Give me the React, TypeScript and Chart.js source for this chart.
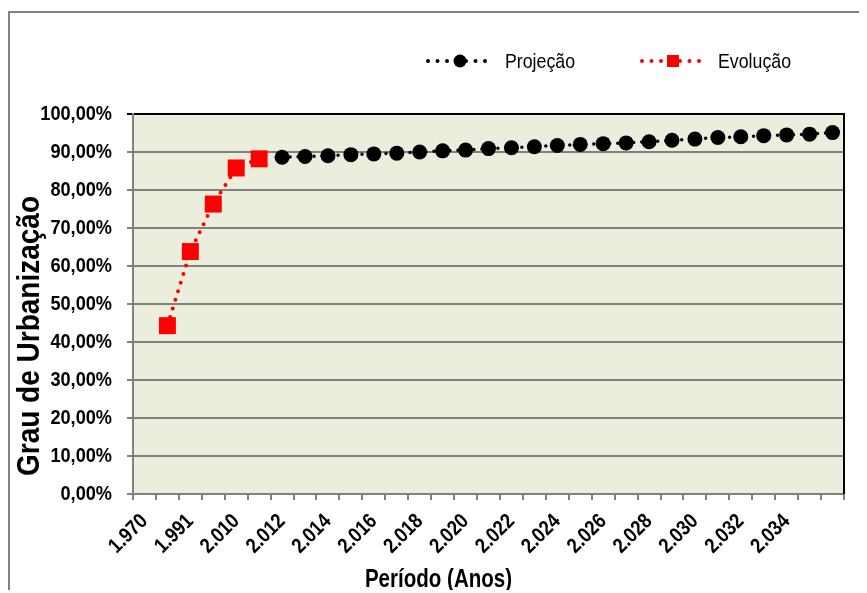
import { useEffect, useRef } from 'react';
import { Chart, registerables } from 'chart.js';

Chart.register(...registerables);

const FONT = '"Liberation Sans", Arial, sans-serif';

// Category labels (one per category; the last one is blank in the source)
const categories: string[] = [
  '1.970', '1.980', '1.991', '2.000', '2.010', '2.011', '2.012', '2.013', '2.014', '2.015',
  '2.016', '2.017', '2.018', '2.019', '2.020', '2.021', '2.022', '2.023', '2.024', '2.025',
  '2.026', '2.027', '2.028', '2.029', '2.030', '2.031', '2.032', '2.033', '2.034', '2.035', '',
];
const labelEvery = 2;

// Evolução (observed), starting at category index 1
const evolucaoStart = 1;
const evolucao: number[] = [44.3, 63.8, 76.3, 85.8, 88.2];

// Projeção, starting at category index 6
const projecaoStart = 6;
const projecao: number[] = [
  88.6, 88.8, 89.0, 89.3, 89.5, 89.7, 90.0, 90.3, 90.5, 90.9, 91.1, 91.4, 91.7,
  92.0, 92.2, 92.4, 92.7, 93.1, 93.4, 93.8, 94.0, 94.3, 94.5, 94.7, 95.1,
];

const yMin = 0;
const yMax = 100;
const yStep = 10;

const seriesNames = ['Projeção', 'Evolução'];
const xTitle = 'Período (Anos)';
const yTitle = 'Grau de Urbanização';

function pad(values: number[], start: number): (number | null)[] {
  return categories.map((_, i) => {
    const k = i - start;
    return k >= 0 && k < values.length ? values[k] : null;
  });
}

const xLabel = (i: number) => (i % labelEvery === 0 ? categories[i] : '');
const yLabel = (v: number) => Number(v).toFixed(2).replace('.', ',') + '%';

const GRAY = '#808080';
const PLOT_BG = '#EBEEDC';

// the source uses a condensed face; emulate it by squeezing text horizontally (sx)
function drawText(
  ctx: CanvasRenderingContext2D,
  text: string,
  x: number,
  y: number,
  font: string,
  sx: number,
  align: CanvasTextAlign,
  baseline: CanvasTextBaseline,
  rotation = 0,
) {
  ctx.save();
  ctx.translate(x, y);
  if (rotation) ctx.rotate(rotation);
  ctx.scale(sx, 1);
  ctx.font = font;
  ctx.fillStyle = '#000000';
  ctx.textAlign = align;
  ctx.textBaseline = baseline;
  ctx.fillText(text, 0, 0);
  ctx.restore();
}

const decorPlugin = {
  id: 'decor',
  beforeDraw(chart: any) {
    const { ctx, chartArea } = chart;
    ctx.save();
    ctx.fillStyle = PLOT_BG;
    ctx.fillRect(chartArea.left, chartArea.top, chartArea.right - chartArea.left, chartArea.bottom - chartArea.top);
    ctx.restore();
  },
  afterDraw(chart: any) {
    const { ctx, chartArea } = chart;
    const xs = chart.scales.x;
    const ys = chart.scales.y;
    ctx.save();
    // right border of plot area
    ctx.strokeStyle = '#000000';
    ctx.lineWidth = 2;
    ctx.beginPath();
    ctx.moveTo(chartArea.right, chartArea.top - 1);
    ctx.lineTo(chartArea.right, chartArea.bottom);
    ctx.stroke();
    ctx.restore();

    // y tick labels
    const yFont = `bold 21px ${FONT}`;
    ys.ticks.forEach((t: any, i: number) => {
      drawText(ctx, yLabel(t.value), chartArea.left - 21, ys.getPixelForTick(i), yFont, 0.865, 'right', 'middle');
    });

    // x tick labels (rotated 45°)
    const xFont = `bold 21px ${FONT}`;
    xs.ticks.forEach((_t: any, i: number) => {
      const s = xLabel(i);
      if (!s) return;
      drawText(ctx, s, xs.getPixelForTick(i), chartArea.bottom + 24, xFont, 0.86, 'right', 'middle', -Math.PI / 4);
    });

    // axis titles
    drawText(ctx, yTitle, 20, 323, `bold 32px ${FONT}`, 0.875, 'center', 'middle', -Math.PI / 2);
    drawText(ctx, xTitle, chart.width / 2, 567, `bold 26px ${FONT}`, 0.79, 'center', 'middle');

    // legend
    const items = [
      { ds: chart.data.datasets[0], x0: 418, x1: 482, text: 495 },
      { ds: chart.data.datasets[1], x0: 632, x1: 694, text: 708 },
    ];
    const y = 48;
    items.forEach((it) => {
      const ds = it.ds;
      ctx.save();
      ctx.strokeStyle = ds.borderColor;
      ctx.lineWidth = 4;
      ctx.lineCap = 'round';
      ctx.setLineDash([0, 9.5]);
      ctx.beginPath();
      ctx.moveTo(it.x0, y);
      ctx.lineTo(it.x1, y);
      ctx.stroke();
      ctx.setLineDash([]);
      const cx = (it.x0 + it.x1) / 2;
      ctx.fillStyle = ds.pointBackgroundColor;
      if (ds.pointStyle === 'rect') {
        ctx.fillRect(cx - 6, y - 6, 12, 12);
      } else {
        ctx.beginPath();
        ctx.arc(cx, y, 6.5, 0, Math.PI * 2);
        ctx.fill();
      }
      ctx.restore();
      drawText(ctx, ds.label, it.text, y + 1, `21px ${FONT}`, 0.845, 'left', 'middle');
    });
  },
};

export default function App() {
  const ref = useRef<HTMLCanvasElement>(null);
  useEffect(() => {
    document.documentElement.style.overflow = 'hidden';
    document.body.style.overflow = 'hidden';
    const chart = new Chart(ref.current as HTMLCanvasElement, {
      type: 'line',
      data: {
        labels: categories,
        datasets: [
          {
            label: seriesNames[0],
            data: pad(projecao, projecaoStart),
            borderColor: '#000000',
            backgroundColor: '#000000',
            borderWidth: 3.5,
            borderDash: [0, 8],
            borderCapStyle: 'round',
            pointStyle: 'circle',
            pointRadius: 7.5,
            pointBackgroundColor: '#000000',
            pointBorderColor: '#000000',
            pointBorderWidth: 0,
            spanGaps: false,
          } as any,
          {
            label: seriesNames[1],
            data: pad(evolucao, evolucaoStart),
            borderColor: '#FF0000',
            backgroundColor: '#FF0000',
            borderWidth: 4,
            borderDash: [0, 9],
            borderCapStyle: 'round',
            pointStyle: 'rect',
            pointRadius: 12,
            pointBackgroundColor: '#FF0000',
            pointBorderColor: '#FF0000',
            pointBorderWidth: 0,
            spanGaps: false,
          } as any,
        ],
      },
      options: {
        animation: false,
        responsive: true,
        maintainAspectRatio: false,
        layout: { padding: { top: 101, right: 23, bottom: 0, left: 0 } },
        plugins: {
          legend: { display: false },
          tooltip: { enabled: false },
          title: { display: false },
        },
        scales: {
          x: {
            type: 'category',
            offset: true,
            afterFit: (scale: any) => { scale.height = 99; },
            grid: { offset: true, drawOnChartArea: false, color: GRAY, lineWidth: 2, tickLength: 6 },
            border: { color: GRAY, width: 2 },
            ticks: { display: false, autoSkip: false, callback: (_v: any, i: number) => xLabel(i) },
          },
          y: {
            min: yMin,
            max: yMax,
            afterFit: (scale: any) => { scale.width = 123; },
            grid: {
              color: (c: any) => (c.tick && c.tick.value === yMax ? '#000000' : GRAY),
              lineWidth: 2,
              tickLength: 6,
            },
            border: { color: GRAY, width: 2 },
            ticks: { display: false, stepSize: yStep, callback: (v: any) => yLabel(v) },
          },
        },
      },
      plugins: [decorPlugin],
    } as any);
    return () => chart.destroy();
  }, []);
  return (
    <div
      style={{
        position: 'relative',
        top: 3,
        width: 859,
        height: 582,
        borderLeft: `2px solid ${GRAY}`,
        borderTop: `2px solid ${GRAY}`,
        boxSizing: 'border-box',
      }}
    >
      <canvas ref={ref} style={{ display: 'block' }} />
    </div>
  );
}
